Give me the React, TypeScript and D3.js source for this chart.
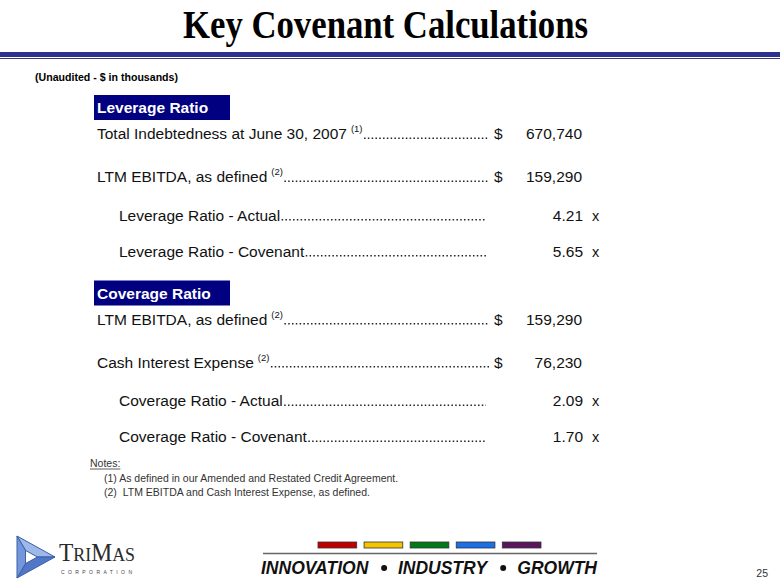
import * as d3 from 'd3';
import React, { useEffect, useRef } from 'react';

// slide content
const slideTitle = "Key Covenant Calculations";
const subTitle = "(Unaudited - $ in thousands)";
const sectionTitles = ["Leverage Ratio", "Coverage Ratio"];

const leverageLabels = ["Total Indebtedness at June 30, 2007", "LTM EBITDA, as defined", "Leverage Ratio - Actual", "Leverage Ratio - Covenant"];
const leverageRefs = ["(1)", "(2)", "", ""];
const leverageValues = [670740, 159290, 4.21, 5.65];
const leverageKinds = ["amount", "amount", "ratio", "ratio"];

const coverageLabels = ["LTM EBITDA, as defined", "Cash Interest Expense", "Coverage Ratio - Actual", "Coverage Ratio - Covenant"];
const coverageRefs = ["(2)", "(2)", "", ""];
const coverageValues = [159290, 76230, 2.09, 1.70];
const coverageKinds = ["amount", "amount", "ratio", "ratio"];

const notesHeading = "Notes:";
const noteLines = ["(1) As defined in our Amended and Restated Credit Agreement.", "(2)  LTM EBITDA and Cash Interest Expense, as defined."];

const footerColors = ["#C00000", "#F2C500", "#007A1A", "#1C6FE6", "#5B145E"];
const footerWords = ["INNOVATION", "INDUSTRY", "GROWTH"];
const pageNumber = "25";

const W = 780, H = 587;
const SANS = "'Liberation Sans', Arial, sans-serif";
const SERIF = "'Liberation Serif', 'Times New Roman', serif";

const App = () => {
    const ref = useRef(null);

    useEffect(() => {
        const svg = d3.select(ref.current);
        svg.selectAll("*").remove();

        svg.append("rect").attr("width", W).attr("height", H).attr("fill", "#fff");

        // title + rule
        svg.append("text")
            .attr("x", 385.5).attr("y", 38)
            .attr("text-anchor", "middle")
            .attr("font-family", SERIF).attr("font-weight", "bold").attr("font-size", 40)
            .attr("textLength", 405).attr("lengthAdjust", "spacingAndGlyphs")
            .attr("fill", "#000")
            .text(slideTitle);
        svg.append("rect").attr("x", 0).attr("y", 52).attr("width", W).attr("height", 5).attr("fill", "#2E3190");
        svg.append("line").attr("x1", 0).attr("x2", W).attr("y1", 58.5).attr("y2", 58.5).attr("stroke", "#3a3c70").attr("stroke-width", 1);

        svg.append("text")
            .attr("x", 35).attr("y", 81)
            .attr("font-family", SANS).attr("font-weight", "bold").attr("font-size", 11)
            .attr("textLength", 143).attr("lengthAdjust", "spacingAndGlyphs")
            .text(subTitle);

        const sections = [
            { title: sectionTitles[0], labels: leverageLabels, refs: leverageRefs, values: leverageValues, kinds: leverageKinds },
            { title: sectionTitles[1], labels: coverageLabels, refs: coverageRefs, values: coverageValues, kinds: coverageKinds },
        ];

        const gap = (a, b) => (a === "amount" && b === "amount") ? 43 : (a === "amount" ? 38.5 : 36);
        const fmtAmount = d3.format(",");
        const fmtRatio = d3.format(".2f");
        const fs = 15.5;

        let y0 = 95;
        sections.forEach(sec => {
            const g = svg.append("g");
            g.append("rect").attr("x", 94).attr("y", y0).attr("width", 136).attr("height", 25).attr("fill", "#000080");
            g.append("text")
                .attr("x", 97).attr("y", y0 + 18)
                .attr("font-family", SANS).attr("font-weight", "bold").attr("font-size", fs)
                .attr("fill", "#fff")
                .text(sec.title);

            let y = y0 + 44;
            sec.labels.forEach((lab, i) => {
                const kind = sec.kinds[i];
                if (i > 0) y += gap(sec.kinds[i - 1], kind);
                const x = kind === "amount" ? 97 : 119;
                const t = g.append("text")
                    .attr("x", x).attr("y", y)
                    .attr("font-family", SANS).attr("font-size", fs).attr("fill", "#111")
                    .text(lab);
                let xe = x + t.node().getComputedTextLength();
                if (sec.refs[i]) {
                    const s = g.append("text")
                        .attr("x", xe + 4).attr("y", y - 7)
                        .attr("font-family", SANS).attr("font-size", 9.5).attr("fill", "#111")
                        .text(sec.refs[i]);
                    xe = xe + 4 + s.node().getComputedTextLength();
                }
                // dot leader
                g.append("line")
                    .attr("x1", xe + 1.5).attr("x2", kind === "amount" ? 489 : 486)
                    .attr("y1", y - 0.8).attr("y2", y - 0.8)
                    .attr("stroke", "#222").attr("stroke-width", 1.5)
                    .attr("stroke-dasharray", "1.5 2.3");

                if (kind === "amount") {
                    g.append("text").attr("x", 494).attr("y", y)
                        .attr("font-family", SANS).attr("font-size", fs).attr("fill", "#111").text("$");
                    g.append("text").attr("x", 582).attr("y", y).attr("text-anchor", "end")
                        .attr("font-family", SANS).attr("font-size", fs).attr("fill", "#111")
                        .text(fmtAmount(sec.values[i]));
                } else {
                    g.append("text").attr("x", 583).attr("y", y).attr("text-anchor", "end")
                        .attr("font-family", SANS).attr("font-size", fs).attr("fill", "#111")
                        .text(fmtRatio(sec.values[i]));
                    g.append("text").attr("x", 592).attr("y", y)
                        .attr("font-family", SANS).attr("font-size", fs - 1).attr("fill", "#111").text("x");
                }
            });
            y0 = y + 24;
        });

        // notes
        const notesY = 467;
        const nh = svg.append("text").attr("x", 90).attr("y", notesY)
            .attr("font-family", SANS).attr("font-size", 10.5).attr("fill", "#333").text(notesHeading);
        svg.append("line")
            .attr("x1", 90).attr("x2", 90 + nh.node().getComputedTextLength())
            .attr("y1", notesY + 2).attr("y2", notesY + 2)
            .attr("stroke", "#333").attr("stroke-width", 0.8);
        svg.selectAll(".note").data(noteLines).enter().append("text")
            .attr("class", "note")
            .attr("x", 104).attr("y", (d, i) => notesY + 15 + i * 14)
            .attr("font-family", SANS).attr("font-size", 10.5).attr("fill", "#333")
            .attr("xml:space", "preserve").style("white-space", "pre")
            .text(d => d);

        // logo emblem: triangular frame pointing right, split into three shaded bands
        const V = [[17, 536], [55, 557], [17, 578]];
        const side = (a, b) => Math.hypot(a[0] - b[0], a[1] - b[1]);
        const la = side(V[1], V[2]), lb = side(V[0], V[2]), lc = side(V[0], V[1]);
        const per = la + lb + lc;
        const ic = [(la * V[0][0] + lb * V[1][0] + lc * V[2][0]) / per, (la * V[0][1] + lb * V[1][1] + lc * V[2][1]) / per];
        const area = Math.abs((V[1][0] - V[0][0]) * (V[2][1] - V[0][1]) - (V[2][0] - V[0][0]) * (V[1][1] - V[0][1])) / 2;
        const r = 2 * area / per;
        const k = (r - 8.5) / r;
        const I = V.map(v => [ic[0] + (v[0] - ic[0]) * k, ic[1] + (v[1] - ic[1]) * k]);
        const shades = ["#9DB9EA", "#5277C6", "#7397DA"];
        V.forEach((A, i) => {
            const j = (i + 1) % 3;
            const pts = [A, V[j], I[j], I[i]];
            svg.append("path")
                .attr("d", d3.line()(pts) + "Z")
                .attr("fill", shades[i]).attr("stroke", "#3D5FA8").attr("stroke-width", 1)
                .attr("stroke-linejoin", "round");
        });
        const tm = svg.append("text").attr("x", 59).attr("y", 561)
            .attr("font-family", SERIF).attr("fill", "#2a2a2a")
            .attr("textLength", 76).attr("lengthAdjust", "spacingAndGlyphs");
        tm.append("tspan").attr("font-size", 25).text("T");
        tm.append("tspan").attr("font-size", 19).text("RI");
        tm.append("tspan").attr("font-size", 25).text("M");
        tm.append("tspan").attr("font-size", 19).text("AS");
        svg.append("text").attr("x", 61).attr("y", 574)
            .attr("font-family", SANS).attr("font-size", 5).attr("fill", "#444")
            .attr("textLength", 71).attr("lengthAdjust", "spacing")
            .text("CORPORATION");

        // footer bars, rule, tagline
        const xb = d3.scaleBand().domain(footerColors.map((c, i) => i)).range([318, 541]).paddingInner(0.16);
        svg.selectAll(".bar").data(footerColors).enter().append("rect")
            .attr("class", "bar")
            .attr("x", (d, i) => xb(i)).attr("y", 542)
            .attr("width", xb.bandwidth()).attr("height", 6)
            .attr("fill", d => d).attr("stroke", "#333").attr("stroke-width", 0.8);
        svg.append("line").attr("x1", 263).attr("x2", 597).attr("y1", 553.5).attr("y2", 553.5)
            .attr("stroke", "#666").attr("stroke-width", 1.5);

        const tagY = 574;
        const wordEls = footerWords.map(w => svg.append("text")
            .attr("y", tagY)
            .attr("font-family", SANS).attr("font-weight", "bold").attr("font-style", "italic").attr("font-size", 17.5)
            .attr("fill", "#111")
            .text(w));
        const widths = wordEls.map(t => t.node().getComputedTextLength());
        const left = 261, right = 597, mid = 442.5;
        const xs = [left, mid - widths[1] / 2, right - widths[2]];
        wordEls.forEach((t, i) => t.attr("x", xs[i]));
        [0, 1].forEach(i => {
            const bx = (xs[i] + widths[i] + xs[i + 1]) / 2 + 1;
            svg.append("circle").attr("cx", bx).attr("cy", tagY - 6).attr("r", 3).attr("fill", "#111");
        });

        svg.append("text").attr("x", 768).attr("y", 577).attr("text-anchor", "end")
            .attr("font-family", SANS).attr("font-size", 10.5).attr("fill", "#333")
            .text(pageNumber);
    }, []);

    return (
        <svg ref={ref} width={W} height={H} style={{ position: 'absolute', left: 0, top: 0 }}>
        </svg>
    );
};

export default App;
